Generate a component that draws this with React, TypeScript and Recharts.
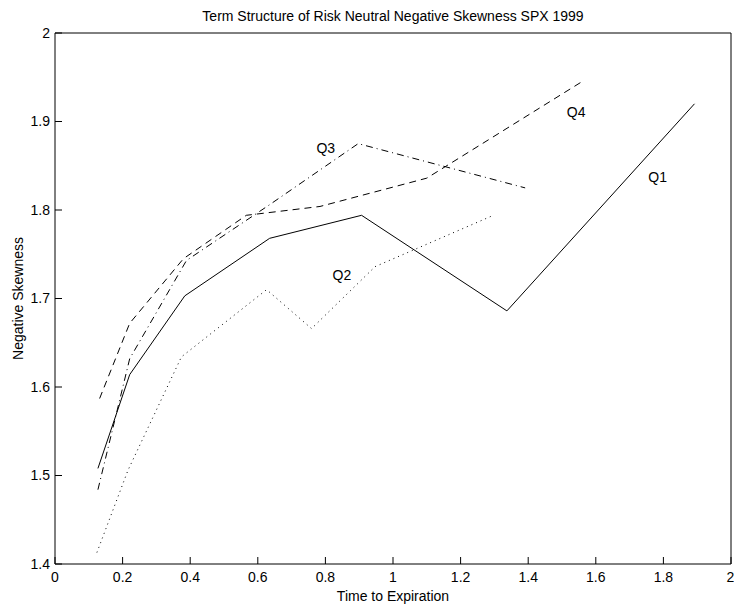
import React from 'react';
import { LineChart, Line, XAxis, YAxis, ReferenceDot } from 'recharts';

// time to expiration (years) and negative skewness, one pair of arrays per quartile
const q1Time = [0.127, 0.221, 0.384, 0.635, 0.907, 1.337, 1.892];
const q1Skew = [1.508, 1.614, 1.703, 1.768, 1.794, 1.686, 1.92];

const q2Time = [0.124, 0.216, 0.374, 0.626, 0.759, 0.947, 1.297];
const q2Skew = [1.413, 1.506, 1.634, 1.71, 1.666, 1.736, 1.794];

const q3Time = [0.127, 0.221, 0.389, 0.635, 0.897, 1.391];
const q3Skew = [1.484, 1.632, 1.743, 1.806, 1.875, 1.825];

const q4Time = [0.132, 0.221, 0.38, 0.566, 0.784, 1.1, 1.559];
const q4Skew = [1.587, 1.672, 1.745, 1.794, 1.804, 1.836, 1.945];

const xTicks = [0, 0.2, 0.4, 0.6, 0.8, 1, 1.2, 1.4, 1.6, 1.8, 2];
const yTicks = [1.4, 1.5, 1.6, 1.7, 1.8, 1.9, 2];

// where the series names sit
const seriesLabels = [
  { name: 'Q1', t: 1.783, s: 1.8375 },
  { name: 'Q2', t: 0.849, s: 1.727 },
  { name: 'Q3', t: 0.801, s: 1.87 },
  { name: 'Q4', t: 1.542, s: 1.911 },
];

const toRows = (t: number[], s: number[]) => t.map((x, i) => ({ x, y: s[i] }));

const q1 = toRows(q1Time, q1Skew);
const q2 = toRows(q2Time, q2Skew);
const q3 = toRows(q3Time, q3Skew);
const q4 = toRows(q4Time, q4Skew);

const font = '"Liberation Sans", Arial, sans-serif';
const tickStyle = { fill: '#000', fontSize: 14, fontFamily: font };

export default function App() {
  return (
    <div style={{ position: 'absolute', left: 0, top: 0, width: 734, height: 609, background: '#fff' }}>
      <div
        style={{
          position: 'absolute',
          left: 55,
          width: 676,
          top: 8,
          lineHeight: '16px',
          textAlign: 'center',
          fontFamily: font,
          fontSize: 14,
          color: '#000',
        }}
      >
        Term Structure of Risk Neutral Negative Skewness SPX 1999
      </div>
      <LineChart width={734} height={609} margin={{ top: 32, right: 2, bottom: 0, left: 0 }}>
        <XAxis
          dataKey="x"
          type="number"
          domain={[0, 2]}
          ticks={xTicks}
          height={45}
          stroke="#000"
          tickSize={-7}
          tickMargin={15}
          tick={tickStyle}
          label={{ value: 'Time to Expiration', position: 'insideBottom', offset: 8, fill: '#000', fontSize: 14, fontFamily: font }}
        />
        <XAxis
          xAxisId="top"
          orientation="top"
          type="number"
          domain={[0, 2]}
          ticks={xTicks}
          height={1}
          stroke="#000"
          tickSize={-7}
          tick={false}
        />
        <YAxis
          type="number"
          domain={[1.4, 2]}
          ticks={yTicks}
          width={55}
          stroke="#000"
          tickSize={-7}
          tickMargin={12}
          tick={tickStyle}
          label={{
            value: 'Negative Skewness',
            angle: -90,
            position: 'insideLeft',
            offset: 18,
            fill: '#000',
            fontSize: 14,
            fontFamily: font,
            style: { textAnchor: 'middle' },
          }}
        />
        <YAxis
          yAxisId="right"
          orientation="right"
          type="number"
          domain={[1.4, 2]}
          ticks={yTicks}
          width={1}
          stroke="#000"
          tickSize={-7}
          tick={false}
        />
        <Line data={q1} dataKey="y" stroke="#000" strokeWidth={1} dot={false} activeDot={false} isAnimationActive={false} />
        <Line data={q2} dataKey="y" stroke="#000" strokeWidth={1} strokeDasharray="1 4" dot={false} activeDot={false} isAnimationActive={false} />
        <Line data={q3} dataKey="y" stroke="#000" strokeWidth={1} strokeDasharray="7 4 1 4" dot={false} activeDot={false} isAnimationActive={false} />
        <Line data={q4} dataKey="y" stroke="#000" strokeWidth={1} strokeDasharray="7 5" dot={false} activeDot={false} isAnimationActive={false} />
        {seriesLabels.map((l) => (
          <ReferenceDot
            key={l.name}
            x={l.t}
            y={l.s}
            r={0}
            fill="none"
            stroke="none"
            label={{ value: l.name, position: 'center', fill: '#000', fontSize: 14, fontFamily: font }}
          />
        ))}
      </LineChart>
    </div>
  );
}
